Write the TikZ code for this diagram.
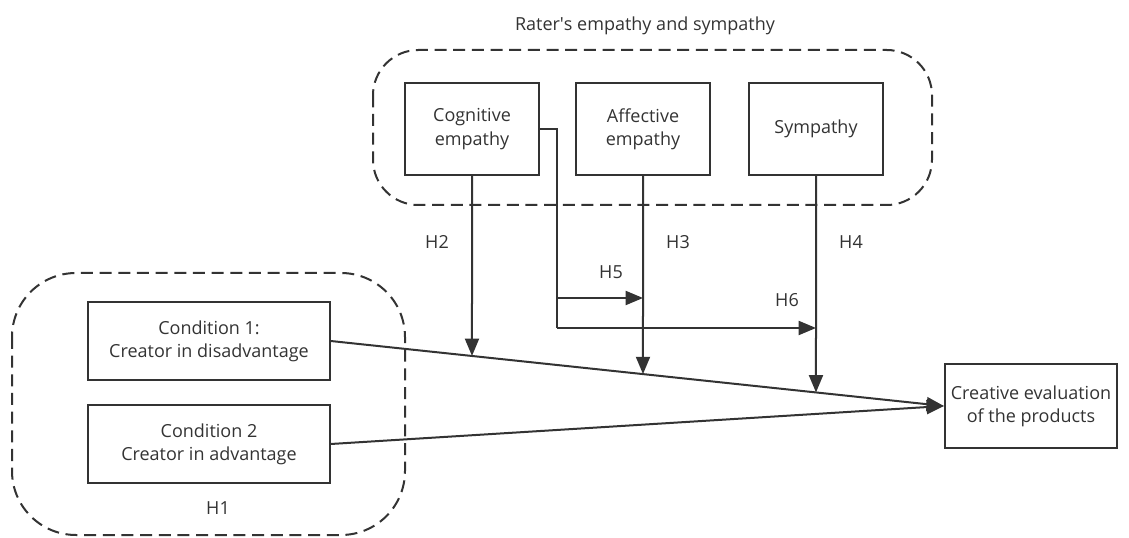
\documentclass[tikz,border=0pt]{standalone}
\usepackage{fontspec}
\setmainfont{Open Sans}
\usetikzlibrary{arrows.meta,positioning,calc}
\begin{document}
\begin{tikzpicture}[x=0.75pt,y=-0.75pt,>={Triangle[length=13pt,width=10.5pt]},
  every node/.style={text=black!80,font=\fontsize{13.5}{17.5}\selectfont},
  box/.style={draw=black!80,line width=1.6pt,align=center},
  group/.style={draw=black!80,line width=1.5pt,dash pattern=on 9pt off 5pt},
  link/.style={draw=black!80,line width=1.5pt}]
\useasboundingbox (0,0) rectangle (1129,538);
% groups
\node (title) at (645,26) {Rater\textquotesingle s empathy and sympathy};
\draw[group,rounded corners=34pt] (373,50) rectangle (932,205);
\draw[group,rounded corners=48pt] (12,273) rectangle (405,535);
% boxes
\node[box,minimum width=101pt,minimum height=69pt] (cog) at (472,129) {Cognitive\\empathy};
\node[box,minimum width=101pt,minimum height=69pt] (aff) at (643,129) {Affective\\empathy};
\node[box,minimum width=101pt,minimum height=69pt] (sym) at (816,129) {Sympathy};
\node[box,minimum width=181pt,minimum height=58pt] (c1) at (209,341) {Condition 1:\\Creator in disadvantage};
\node[box,minimum width=181pt,minimum height=58pt] (c2) at (209,444) {Condition 2\\Creator in advantage};
\node[box,minimum width=129pt,minimum height=63pt] (eval) at (1031,406) {Creative evaluation\\of the products};
% main paths
\draw[link,->] (c1.east) -- (eval.west);
\draw[link,->] (c2.east) -- (eval.west);
\coordinate (m2) at (intersection of c1.east--eval.west and cog.south--cog.north);
\coordinate (m3) at (intersection of c1.east--eval.west and aff.south--aff.north);
\coordinate (m4) at (intersection of c1.east--eval.west and sym.south--sym.north);
\draw[link,->] (cog.south) -- (m2);
\draw[link,->] (aff.south) -- (m3);
\draw[link,->] (sym.south) -- (m4);
% moderation
\coordinate (k1) at ($(cog.east)+(17,0)$);
\coordinate (k5) at (k1 |- 0,298);
\coordinate (k6) at (k1 |- 0,328);
\draw[link] (cog.east) -- (k1) -- (k6);
\draw[link,->] (k5) -- (k5 -| aff.south);
\draw[link,->] (k6) -- (k6 -| sym.south);
% labels
\node (h1) at (218,508) {H1};
\node (h2) at (437,242) {H2};
\node (h3) at (678,242) {H3};
\node (h4) at (851,242) {H4};
\node (h5) at (611,272) {H5};
\node (h6) at (787,300) {H6};
\end{tikzpicture}
\end{document}
